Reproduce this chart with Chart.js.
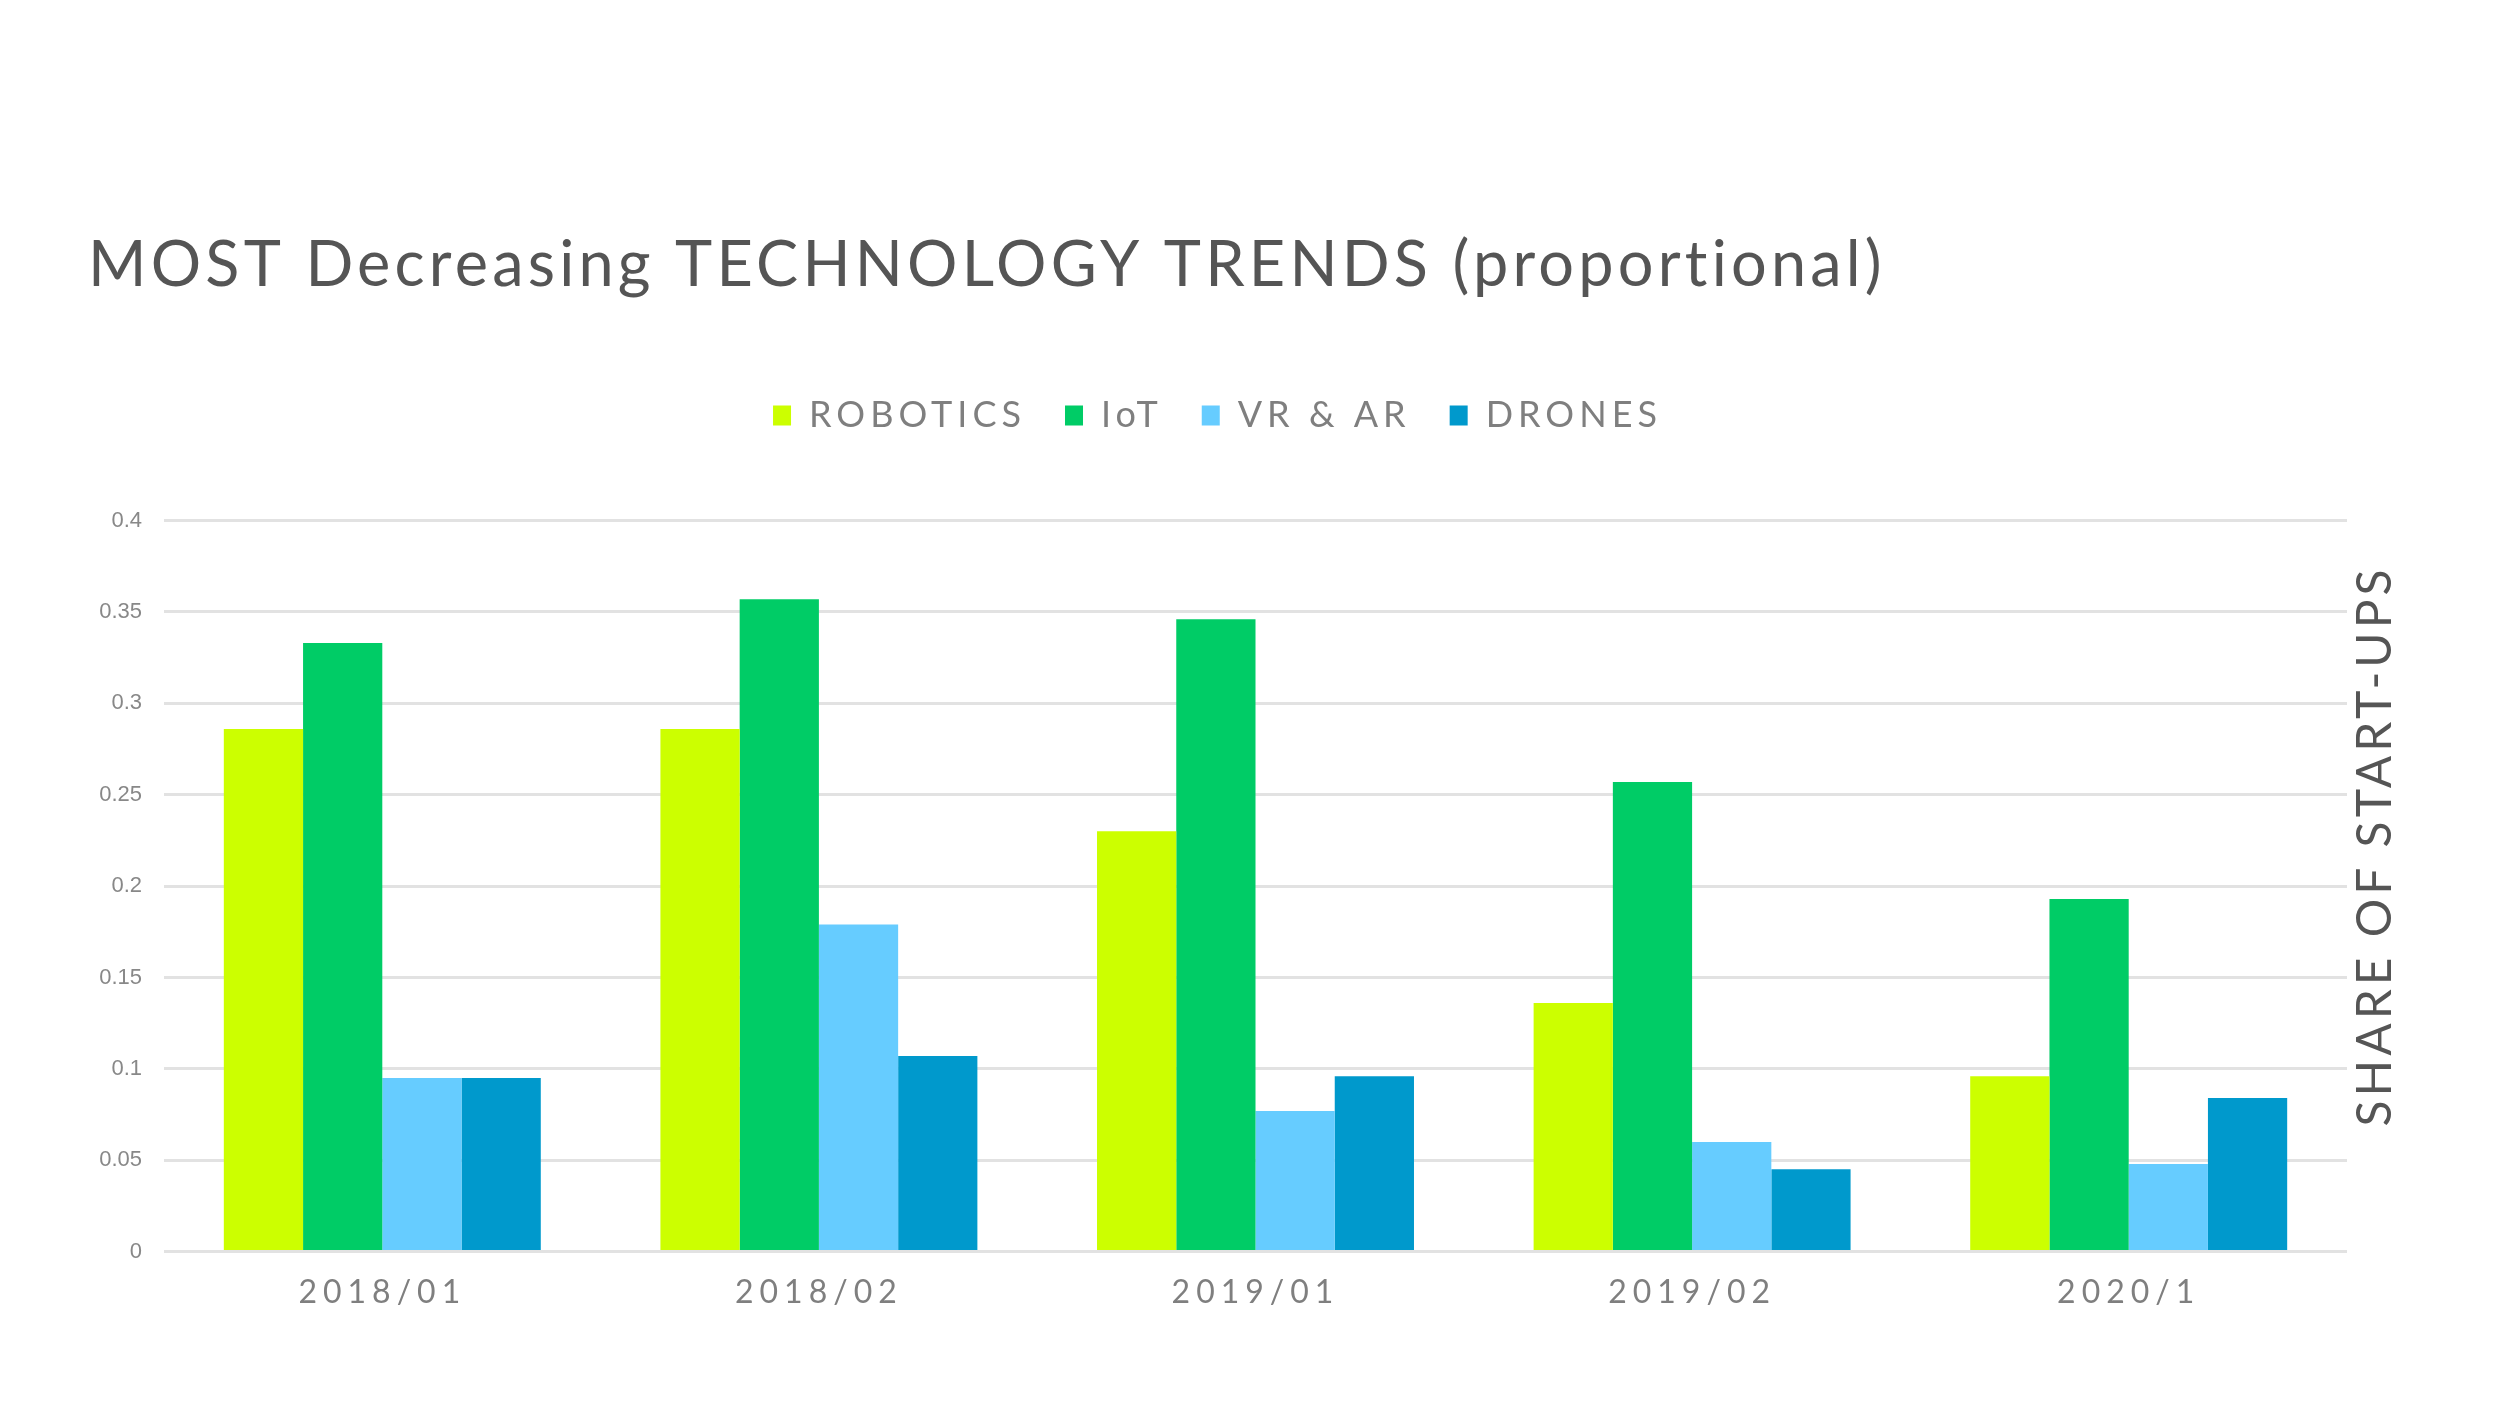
<!DOCTYPE html>
<html>
<head>
<meta charset="utf-8">
<script src="https://cdn.jsdelivr.net/npm/chart.js@4/dist/chart.umd.min.js"></script>
<style>
  html, body { margin: 0; padding: 0; background: #fff; }
  canvas { display: block; }
</style>
</head>
<body>
<canvas id="trendChart" width="2500" height="1406"></canvas>
<script>
const periods = ['2018/01', '2018/02', '2019/01', '2019/02', '2020/1'];
const robotics = [0.286, 0.286, 0.230, 0.136, 0.096];
const iot = [0.333, 0.357, 0.346, 0.257, 0.193];
const vrAr = [0.095, 0.179, 0.077, 0.060, 0.048];
const drones = [0.095, 0.107, 0.096, 0.045, 0.084];
const yTicks = [0, 0.05, 0.1, 0.15, 0.2, 0.25, 0.3, 0.35, 0.4];

// letter spacing per font size (canvas has no css letter-spacing)
const spacing = { 63: '4.2px', 36: '5px', 32: '6px', 48: '4px' };

const canvas = document.getElementById('trendChart');
const ctx = canvas.getContext('2d');
function setSpacing(c) {
    const m = /(\d+(?:\.\d+)?)px/.exec(c.font);
    c.letterSpacing = (m && spacing[Math.round(m[1])]) || '0px';
}
ctx.fillText = function (...args) {
    setSpacing(this);
    return CanvasRenderingContext2D.prototype.fillText.apply(this, args);
};
ctx.measureText = function (...args) {
    setSpacing(this);
    return CanvasRenderingContext2D.prototype.measureText.apply(this, args);
};

// empty box between legend and plot
const spacer = {
    id: 'spacer',
    beforeInit(chart) {
        Chart.layouts.addBox(chart, {
            position: 'top',
            weight: 500,
            fullSize: true,
            options: {},
            update(w) { this.width = w; this.height = 77; },
            isHorizontal() { return true; },
            draw() {}
        });
    }
};

// right side axis title, reads bottom to top
const sideTitle = {
    id: 'sideTitle',
    afterDraw(chart) {
        const c = chart.ctx;
        c.save();
        c.translate(2376, 846);
        c.rotate(-Math.PI / 2);
        c.font = '48px Lato';
        c.fillStyle = '#555555';
        c.textAlign = 'center';
        c.textBaseline = 'middle';
        c.fillText('SHARE OF START-UPS', 0, 0);
        c.restore();
    }
};

const chart = new Chart(ctx, {
    type: 'bar',
    data: {
        labels: periods,
        datasets: [
            { label: 'ROBOTICS', data: robotics, backgroundColor: '#CCFF00' },
            { label: 'IoT', data: iot, backgroundColor: '#00CC66' },
            { label: 'VR & AR', data: vrAr, backgroundColor: '#66CCFF' },
            { label: 'DRONES', data: drones, backgroundColor: '#0099CC' }
        ]
    },
    options: {
        responsive: false,
        animation: false,
        devicePixelRatio: 1,
        datasets: { bar: { categoryPercentage: 0.726, barPercentage: 1 } },
        layout: { padding: { left: 88, right: 153, top: 0, bottom: 80 } },
        plugins: {
            title: {
                display: true,
                text: 'MOST Decreasing TECHNOLOGY TRENDS (proportional)',
                align: 'start',
                color: '#555555',
                font: { family: 'Lato', size: 63, weight: 'normal', lineHeight: 1.2 },
                padding: { top: 228, bottom: 55 }
            },
            legend: {
                position: 'top',
                labels: {
                    color: '#7f7f7f',
                    font: { family: 'Lato', size: 36 },
                    boxWidth: 18,
                    boxHeight: 20,
                    padding: 39
                }
            },
            tooltip: { enabled: false }
        },
        scales: {
            x: {
                grid: { display: false },
                border: { display: false },
                ticks: {
                    color: '#7f7f7f',
                    font: { family: 'Lato', size: 32, lineHeight: 1.2 },
                    padding: 14
                }
            },
            y: {
                min: 0,
                max: 0.4,
                afterBuildTicks: s => { s.ticks = yTicks.map(v => ({ value: v })); },
                afterFit: s => { s.width = 76; },
                grid: { color: '#e2e2e2', lineWidth: 3, drawTicks: false },
                border: { display: false },
                ticks: {
                    color: '#888888',
                    font: { family: 'Liberation Sans', size: 22 },
                    padding: 22,
                    callback: v => String(v)
                }
            }
        }
    },
    plugins: [spacer, sideTitle]
});
</script>
</body>
</html>
